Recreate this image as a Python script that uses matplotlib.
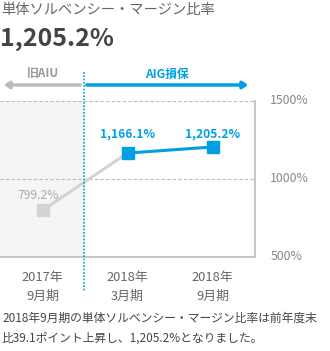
import matplotlib
matplotlib.use('Agg')
import matplotlib.pyplot as plt

plt.rcParams['font.family'] = ['Noto Sans CJK JP', 'DejaVu Sans']

# data
periods = ['2017年\n9月期', '2018年\n3月期', '2018年\n9月期']
ratios = [799.2, 1166.1, 1205.2]
labels = ['799.2%', '1,166.1%', '1,205.2%']
yticks = [500, 1000, 1500]
ytick_labels = ['500%', '1000%', '1500%']

blue = '#00a0e3'
grey = '#d3d3d3'
txt = '#666666'

W, H = 330, 351
fig = plt.figure(figsize=(W / 100, H / 100), dpi=100)

def fy(py):
    return 1 - py / H

ax = fig.add_axes([0, fy(257), 255 / W, (257 - 101) / H])
ax.set_xlim(-0.5, 2.5)
ax.set_ylim(500, 1500)

# shaded old-company area
ax.axvspan(-0.5, 0.49, color='#f5f5f5', zorder=0)

# grid lines
for v in yticks[1:]:
    ax.axhline(v, color='#bbbbbb', lw=0.8, ls=(0, (3, 2)), zorder=1)

for s in ['top', 'left']:
    ax.spines[s].set_visible(False)
for s in ['right', 'bottom']:
    ax.spines[s].set_color('#c8c8c8')
    ax.spines[s].set_linewidth(1.5)

ax.set_xticks([])
ax.set_yticks([])

# lines
ax.plot([0, 1], ratios[:2], color=grey, lw=2.2, zorder=2)
ax.plot([1, 2], ratios[1:], color=blue, lw=2.2, zorder=3)
ax.plot([0], ratios[:1], 's', color=grey, ms=8.5, zorder=4)
ax.plot([1, 2], ratios[1:], 's', color=blue, ms=8.5, zorder=4)

# data labels
ax.text(-0.05, 897, labels[0], ha='center', va='center', color='#aaaaaa',
        fontsize=8.7)
for i in [1, 2]:
    ax.text(i, 1288, labels[i], ha='center', va='center', color=blue,
            fontsize=8.7, fontweight='bold')

# right y labels
for v, t in zip(yticks, ytick_labels):
    ax.text(2.68, v, t, ha='left', va='center', color='#888888', fontsize=8.8,
            clip_on=False)

# x labels
for i, p in enumerate(periods):
    x = (42.5 + 85 * i) / W
    a, b = p.split('\n')
    fig.text(x, fy(277), a, ha='center', va='center', color=txt, fontsize=9.3)
    fig.text(x, fy(296), b, ha='center', va='center', color=txt, fontsize=9.3)

# dotted divider
fig.add_artist(plt.Line2D([84 / W, 84 / W], [fy(72), fy(292)], color=blue,
                          lw=1.2, ls=(0, (1, 1))))

# arrows
fig.add_artist(matplotlib.patches.FancyArrowPatch((83 / W, fy(85)), (1 / W, fy(85)),
               arrowstyle='-|>,head_length=3,head_width=2', color='#bbbbbb', lw=2.5,
               transform=fig.transFigure, mutation_scale=1))
fig.add_artist(matplotlib.patches.FancyArrowPatch((84 / W, fy(85)), (251 / W, fy(85)),
               arrowstyle='-|>,head_length=3,head_width=2', color=blue, lw=2.5,
               transform=fig.transFigure, mutation_scale=1))
fig.text(43 / W, fy(74), '旧AIU', ha='center', va='center', color='#999999',
         fontsize=8.5, fontweight='bold')
fig.text(167 / W, fy(74), 'AIG損保', ha='center', va='center', color=blue,
         fontsize=8.5, fontweight='bold')

# headings
fig.text(1 / W, fy(10), '単体ソルベンシー・マージン比率', ha='left', va='center',
         color=txt, fontsize=10.3)
fig.text(0 / W, fy(39), '1,205.2%', ha='left', va='center', color='#444444',
         fontsize=18, fontweight='bold')

# footnote
fig.text(2 / W, fy(318), '2018年9月期の単体ソルベンシー・マージン比率は前年度末',
         ha='left', va='center', color='#444444', fontsize=8.5)
fig.text(2 / W, fy(338), '比39.1ポイント上昇し、1,205.2%となりました。',
         ha='left', va='center', color='#444444', fontsize=8.5)

fig.savefig('out.png', dpi=100)
